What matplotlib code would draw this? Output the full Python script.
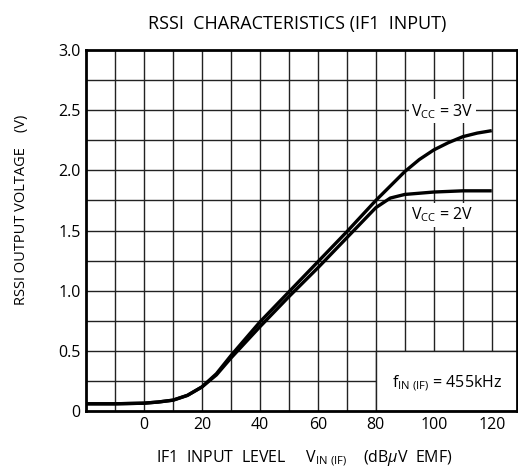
import numpy as np
import matplotlib
matplotlib.use("Agg")
from matplotlib import pyplot as plt
from matplotlib.patches import Rectangle

plt.rcParams['font.family'] = ['Open Sans', 'DejaVu Sans']
plt.rcParams['mathtext.fontset'] = 'custom'
plt.rcParams['mathtext.rm'] = 'Open Sans'
plt.rcParams['mathtext.it'] = 'Open Sans:italic'

# data
vin = [-20, -10, 0, 5, 10, 15, 20, 25, 30, 35, 40, 50, 60, 70, 80, 85, 90, 95, 100, 105, 110, 115, 120]
vcc3 = [0.06, 0.06, 0.065, 0.075, 0.09, 0.13, 0.20, 0.31, 0.46, 0.60, 0.74, 0.99, 1.24, 1.49, 1.75, 1.87, 1.99, 2.09, 2.17, 2.23, 2.28, 2.31, 2.33]
vcc2 = [0.06, 0.06, 0.065, 0.075, 0.09, 0.13, 0.20, 0.30, 0.44, 0.57, 0.70, 0.95, 1.19, 1.44, 1.69, 1.77, 1.80, 1.81, 1.82, 1.825, 1.83, 1.83, 1.83]
xticks = [0, 20, 40, 60, 80, 100, 120]
yticks = [0, 0.5, 1.0, 1.5, 2.0, 2.5, 3.0]
yticklabels = ['0', '0.5', '1.0', '1.5', '2.0', '2.5', '3.0']

fig = plt.figure(figsize=(5.18, 4.70), dpi=100)
ax = fig.add_axes([0.166, 0.1255, 0.832, 0.768])

ax.set_xlim(-20, 128.7)
ax.set_ylim(0, 3.0)

for x in np.arange(-10, 130, 10):
    ax.axvline(x, color='#222222', lw=1.0, zorder=1)
for y in np.arange(0.25, 3.0, 0.25):
    ax.axhline(y, color='#222222', lw=1.0, zorder=1)

# blank area behind the frequency note
ax.add_patch(Rectangle((80, 0), 60, 0.5, facecolor='white', edgecolor='#222222', lw=1.0, zorder=2))

ax.plot(vin, vcc3, color='black', lw=2.4, zorder=4, solid_capstyle='butt')
ax.plot(vin, vcc2, color='black', lw=2.4, zorder=4, solid_capstyle='butt')

box = dict(facecolor='white', edgecolor='none', pad=2)
ax.text(103, 2.49, r'$\mathregular{V_{CC}}$ = 3V', fontsize=11.5, ha='center', va='center', bbox=box, zorder=5)
ax.text(103, 1.63, r'$\mathregular{V_{CC}}$ = 2V', fontsize=11.5, ha='center', va='center', bbox=box, zorder=5)
ax.text(104.5, 0.23, r'$\mathregular{f_{IN\ (IF)}}$ = 455kHz', fontsize=11.5, ha='center', va='center', zorder=5)

ax.set_xticks(xticks)
ax.set_yticks(yticks)
ax.set_yticklabels(yticklabels)
ax.tick_params(length=0, labelsize=11.5, pad=4)
for s in ax.spines.values():
    s.set_linewidth(2.0)
    s.set_zorder(6)

fig.text(0.574, 0.949, 'RSSI  CHARACTERISTICS (IF1  INPUT)', fontsize=13, ha='center', va='center')
fig.text(0.587, 0.026, r'IF1  INPUT  LEVEL     $\mathregular{V_{IN\ (IF)}}$    (dB$\mathit{\mu}$V  EMF)',
         fontsize=11.5, ha='center', va='center')
fig.text(0.042, 0.553, 'RSSI OUTPUT VOLTAGE    (V)', fontsize=10.5, rotation=90, ha='center', va='center')

fig.savefig('out.png', dpi=100)
